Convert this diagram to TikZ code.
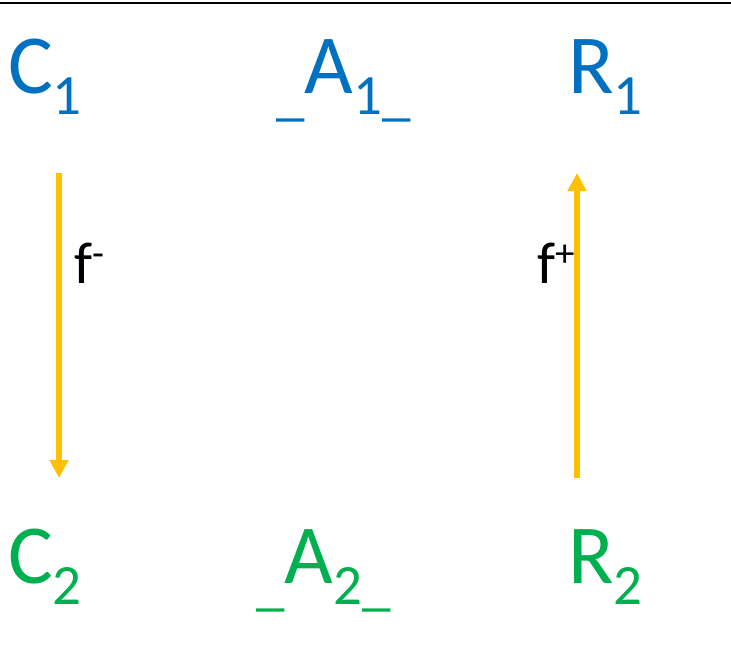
\documentclass[tikz,border=0pt]{standalone}
\usepackage{fontspec}
\setmainfont{Carlito}
\usetikzlibrary{arrows.meta}

\definecolor{setblue}{HTML}{0070C0}
\definecolor{setgreen}{HTML}{00B050}
\definecolor{mapgold}{HTML}{FFC000}

% lowered / raised indices, sizes in pt (1pt = 1px of the target)
\newcommand{\lowidx}[1]{\raisebox{-21pt}{\fontsize{57}{57}\selectfont #1}}
\newcommand{\highidx}[1]{\raisebox{17pt}{\fontsize{39}{39}\selectfont #1}}

\begin{document}
\begin{tikzpicture}[
  x=1pt,y=-1pt,
  obj/.style={inner sep=0pt,anchor=base west,font=\fontsize{84}{84}\selectfont},
  upper/.style={obj,text=setblue},
  lower/.style={obj,text=setgreen},
  lab/.style={inner sep=0pt,anchor=base west,font=\fontsize{59}{59}\selectfont},
  map/.style={draw=mapgold,line width=6pt,-{Triangle[length=18pt,width=18pt]}},
]
\useasboundingbox (0,0) rectangle (731,669);
\draw[line width=2pt] (0,3) -- (731,3);

% ---------- top row ----------
\node[upper] (C1) at (8,93) {C\lowidx{1}};
\node[upper] (A1) at (276,93) {\lowidx{\_}A\lowidx{1\_}};
\node[upper] (R1) at (568,93) {R\lowidx{1}};

% ---------- bottom row ----------
\node[lower] (C2) at (8,583) {C\lowidx{2}};
\node[lower] (A2) at (256,583) {\lowidx{\_}A\lowidx{2\_}};
\node[lower] (R2) at (568,583) {R\lowidx{2}};

% ---------- maps ----------
\coordinate (fminus from) at (59,173);
\coordinate (fminus to) at (59,478);
\coordinate (fplus from) at (577,478);
\coordinate (fplus to) at (577,173);
\draw[map] (fminus from) -- (fminus to);
\draw[map] (fplus from) -- (fplus to);
\node[lab] (fminus) at (74,283) {f\highidx{-}};
\node[lab] (fplus) at (537,283) {f\highidx{+}};
\end{tikzpicture}
\end{document}
